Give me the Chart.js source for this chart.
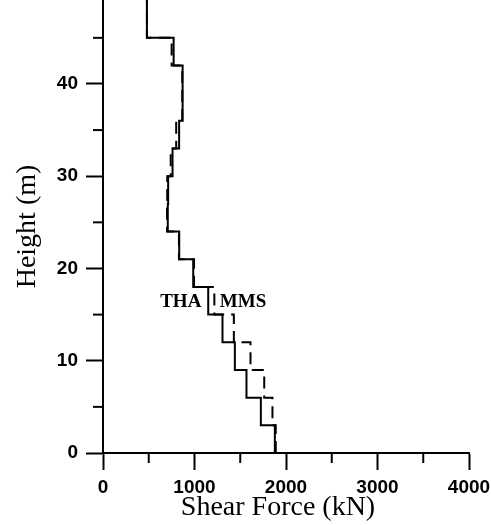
<!DOCTYPE html>
<html>
<head>
<meta charset="utf-8">
<script src="https://cdn.jsdelivr.net/npm/chart.js@4/dist/chart.umd.min.js"></script>
<style>
    html, body { margin: 0; padding: 0; background: #fff; }
    #wrap { width: 491px; height: 525px; }
</style>
</head>
<body>
<div id="wrap"><canvas id="shearChart"></canvas></div>
<script>
// Story levels (m), bottom of each story, plus the top of the plot
const storyLevels = [0, 3, 6, 9, 12, 15, 18, 21, 24, 27, 30, 33, 36, 39, 42, 45, 50];

// Story shear (kN), from the ground story up
const thaShear = [1878, 1725, 1568, 1441, 1306, 1150, 986, 833, 708, 712, 760, 832, 870, 870, 772, 480];
const mmsShear = [1888, 1852, 1762, 1612, 1430, 1217, 995, 830, 700, 702, 740, 800, 866, 866, 750, 480];

const xTicks = [0, 1000, 2000, 3000, 4000];
const yTicks = [0, 10, 20, 30, 40];

// turn story values into a stepped profile
function stepPoints(values) {
    const pts = [];
    for (let i = 0; i < values.length; i++) {
        pts.push({ x: values[i], y: storyLevels[i] });
        pts.push({ x: values[i], y: storyLevels[i + 1] });
    }
    return pts;
}

// minor ticks, x title, series labels
const extras = {
    id: 'extras',
    afterDraw(chart) {
        const ctx = chart.ctx;
        const xs = chart.scales.x;
        const ys = chart.scales.y;
        ctx.save();
        ctx.strokeStyle = '#000';
        ctx.lineWidth = 2;
        [500, 1500, 2500, 3500].forEach(v => {
            const px = xs.getPixelForValue(v);
            ctx.beginPath();
            ctx.moveTo(px, ys.bottom);
            ctx.lineTo(px, ys.bottom + 10);
            ctx.stroke();
        });
        [5, 15, 25, 35, 45].forEach(v => {
            const py = ys.getPixelForValue(v);
            ctx.beginPath();
            ctx.moveTo(xs.left, py);
            ctx.lineTo(xs.left - 10, py);
            ctx.stroke();
        });
        ctx.fillStyle = '#000';
        ctx.textAlign = 'center';
        ctx.textBaseline = 'middle';
        ctx.font = '28px "Liberation Serif", "Times New Roman", serif';
        ctx.fillText('Shear Force (kN)', 278, 508);
        ctx.font = 'bold 19px "Liberation Serif", "Times New Roman", serif';
        ctx.fillText('THA', xs.getPixelForValue(850), ys.getPixelForValue(16.4));
        ctx.fillText('MMS', xs.getPixelForValue(1530), ys.getPixelForValue(16.4));
        ctx.restore();
    }
};

const tickFont = { family: '"Liberation Sans", Arial, sans-serif', size: 19, weight: 'bold' };
const titleFont = { family: '"Liberation Serif", "Times New Roman", serif', size: 28 };

new Chart(document.getElementById('shearChart'), {
    type: 'scatter',
    data: {
        datasets: [{
            label: 'THA',
            data: stepPoints(thaShear),
            showLine: true,
            borderColor: '#000',
            borderWidth: 2,
            pointRadius: 0
        }, {
            label: 'MMS',
            data: stepPoints(mmsShear),
            showLine: true,
            borderColor: '#000',
            borderWidth: 2,
            borderDash: [12, 7],
            pointRadius: 0
        }]
    },
    options: {
        responsive: true,
        maintainAspectRatio: false,
        animation: false,
        layout: { padding: { left: 0, right: 22, top: 0, bottom: 0 } },
        plugins: {
            legend: { display: false },
            tooltip: { enabled: false }
        },
        scales: {
            x: {
                type: 'linear',
                min: 0,
                max: 4000,
                afterBuildTicks: s => { s.ticks = xTicks.map(v => ({ value: v })); },
                afterFit: s => { s.height = 72; s.paddingLeft = 0; s.paddingRight = 0; },
                border: { color: '#000', width: 2 },
                grid: { drawOnChartArea: false, tickLength: 17, tickWidth: 2, tickColor: '#000' },
                ticks: { color: '#000', font: tickFont, padding: 6, maxRotation: 0, callback: v => String(v) }
            },
            y: {
                type: 'linear',
                min: 0,
                max: 49.1,
                afterBuildTicks: s => { s.ticks = yTicks.map(v => ({ value: v })); },
                afterFit: s => { s.width = 103; s.paddingTop = 0; s.paddingBottom = 0; },
                border: { color: '#000', width: 2 },
                grid: { drawOnChartArea: false, tickLength: 17, tickWidth: 2, tickColor: '#000' },
                ticks: { color: '#000', font: tickFont, padding: 8, callback: v => String(v) },
                title: { display: true, text: 'Height (m)', color: '#000', font: titleFont, padding: { top: 11, bottom: 0 } }
            }
        }
    },
    plugins: [extras]
});
</script>
</body>
</html>
